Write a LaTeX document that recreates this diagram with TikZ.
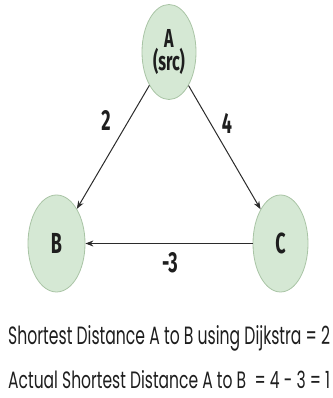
\documentclass[tikz,border=0pt]{standalone}
\usepackage{graphicx}
\usepackage{fontspec}
\setmainfont{Poppins}
\newfontfamily\labfont[FakeStretch=0.62]{Fira Sans}
\usetikzlibrary{shapes.geometric,arrows.meta}
\definecolor{nodefill}{HTML}{D5E8D4}
\definecolor{nodeline}{HTML}{A9C4A5}
\definecolor{edgecol}{HTML}{2B2B2B}
\definecolor{textcol}{HTML}{1E1E1E}
\begin{document}
\begin{tikzpicture}[x=1pt,y=1pt,
  vert/.style={ellipse, fill=nodefill, draw=nodeline, line width=0.8pt, inner sep=0pt,
    text=textcol, font=\labfont\bfseries\fontsize{29}{29}\selectfont, align=center},
  edge/.style={draw=edgecol, line width=1pt, -{Stealth[length=8pt,width=6pt]}},
  wlab/.style={font=\labfont\bfseries\fontsize{29}{29}\selectfont, inner sep=0pt, text=textcol},
  caption/.style={anchor=base west, inner sep=0pt, text=textcol}]
\useasboundingbox (0,0) rectangle (332,398);
\node[vert, minimum width=54pt, minimum height=95pt,
  font=\labfont\bfseries\fontsize{26}{23.5}\selectfont] (A) at (169,346) {A\\(src)};
\node[vert, minimum width=57pt, minimum height=97pt] (B) at (56.5,154.5) {B};
\node[vert, minimum width=55pt, minimum height=97pt] (C) at (280.5,154.5) {C};
\draw[edge] (A) -- (B);
\draw[edge] (A) -- (C);
\draw[edge] (C) -- (B);
\node[wlab] (l2) at (106,277) {2};
\node[wlab] (l4) at (227,275) {4};
\node[wlab] (l3) at (170,135) {-3};
\node[caption] (t1) at (8,53) {\resizebox{322pt}{19pt}{Shortest Distance A to B using Dijkstra = 2}};
\node[caption] (t2) at (8,9) {\resizebox{322pt}{18pt}{Actual Shortest Distance A to B\ \ = 4 - 3 = 1}};
\end{tikzpicture}
\end{document}
